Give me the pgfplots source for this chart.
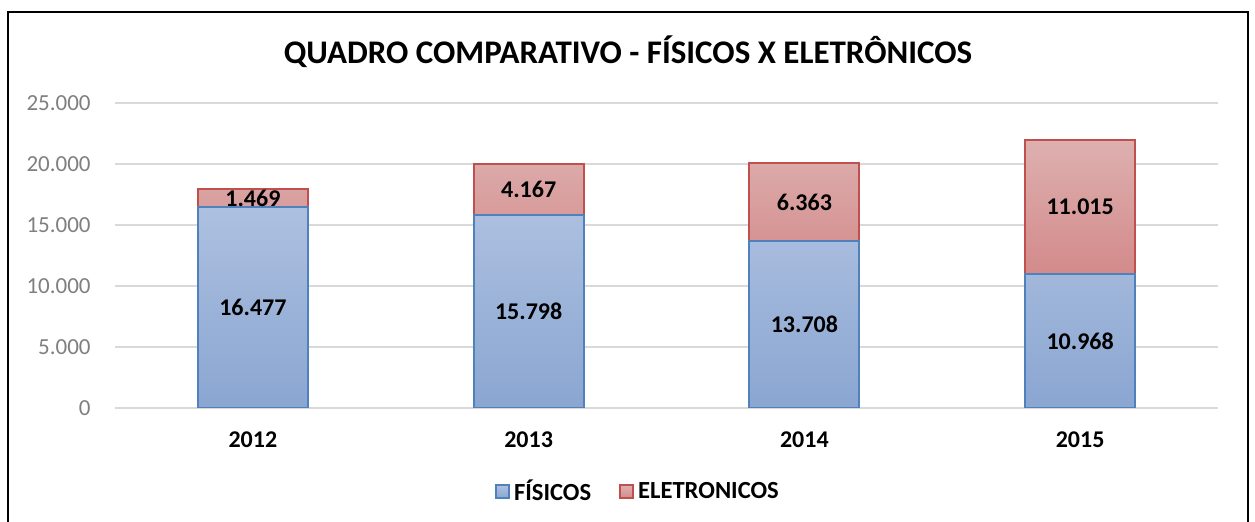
\documentclass[border=0pt]{standalone}
\usepackage{fontspec}
\setmainfont{Carlito}
\usepackage{pgfplots}
\pgfplotsset{compat=1.18}
\usepackage{pgfplotstable}

\definecolor{tickgray}{HTML}{7F7F7F}
\definecolor{gridgray}{HTML}{D9D9D9}
\definecolor{bluetop}{HTML}{ADC0E0}
\definecolor{bluebot}{HTML}{8AA6D1}
\definecolor{blueedge}{HTML}{4F81BD}
\definecolor{redtop}{HTML}{DEB0B0}
\definecolor{redbot}{HTML}{D38A8A}
\definecolor{rededge}{HTML}{C0504D}

\pgfplotstableread{
x fis ele
0 16477 1469
1 15798 4167
2 13708 6363
3 10968 11015
}\dados

\pgfplotsset{
  base/.style={
    at={(57.5pt,-204pt)}, anchor=south west,
    scale only axis, width=551.5pt, height=152.5pt,
    xmin=-0.5, xmax=3.5, ymin=0, ymax=25000,
    /pgf/number format/.cd, 1000 sep={.}, assume math mode=true, /pgfplots/.cd,
  },
}

\begin{document}
\begin{tikzpicture}
\useasboundingbox (0,0) rectangle (627.5pt,-261pt);
\draw[line width=1pt] (4pt,-270pt) -- (4pt,-6pt) -- (624pt,-6pt) -- (624pt,-270pt);
\node[font=\bfseries\fontsize{16.5}{19}\selectfont] at (314pt,-26pt)
  {QUADRO COMPARATIVO - FÍSICOS X ELETRÔNICOS};

\begin{axis}[
  base,
  ybar stacked,
  bar width=55pt,
  ytick={0,5000,10000,15000,20000,25000},
  scaled y ticks=false,
  xtick=data,
  xticklabels={2012,2013,2014,2015},
  xticklabel style={font=\bfseries\fontsize{12}{14}\selectfont, anchor=center, yshift=-16pt},
  yticklabel style={font=\fontsize{11.5}{14}\selectfont, text=tickgray, inner sep=0pt, anchor=east, xshift=-12pt},
  axis line style={draw=none},
  major tick style={draw=none},
  ymajorgrids,
  major grid style={draw=gridgray, line width=0.8pt},
  legend columns=2,
  legend style={draw=none, fill=none, at={(0.475,-0.275)}, anchor=center,
    font=\bfseries\fontsize{12.3}{14}\selectfont,
    /tikz/every even column/.append style={column sep=12pt}},
  legend image code/.code={\draw[#1, line width=1pt] (0pt,-3.25pt) rectangle (6.5pt,3.25pt);},
]
\addplot[draw=blueedge, line width=1pt, top color=bluetop, bottom color=bluebot]
  table[x=x, y=fis] {\dados};
\addplot[draw=rededge, line width=1pt, top color=redtop, bottom color=redbot]
  table[x=x, y=ele] {\dados};
\legend{FÍSICOS, ELETRONICOS}
\end{axis}

\begin{axis}[
  base,
  hide axis,
  nodes near coords,
  point meta=explicit,
  every node near coord/.append style={anchor=center, text=black,
    font=\bfseries\fontsize{12}{14}\selectfont},
]
\addplot[draw=none, mark=none] table[x=x, y expr=\thisrow{fis}/2, meta=fis] {\dados};
\addplot[draw=none, mark=none] table[x=x, y expr=\thisrow{fis}+\thisrow{ele}/2, meta=ele] {\dados};
\end{axis}
\end{tikzpicture}
\end{document}
